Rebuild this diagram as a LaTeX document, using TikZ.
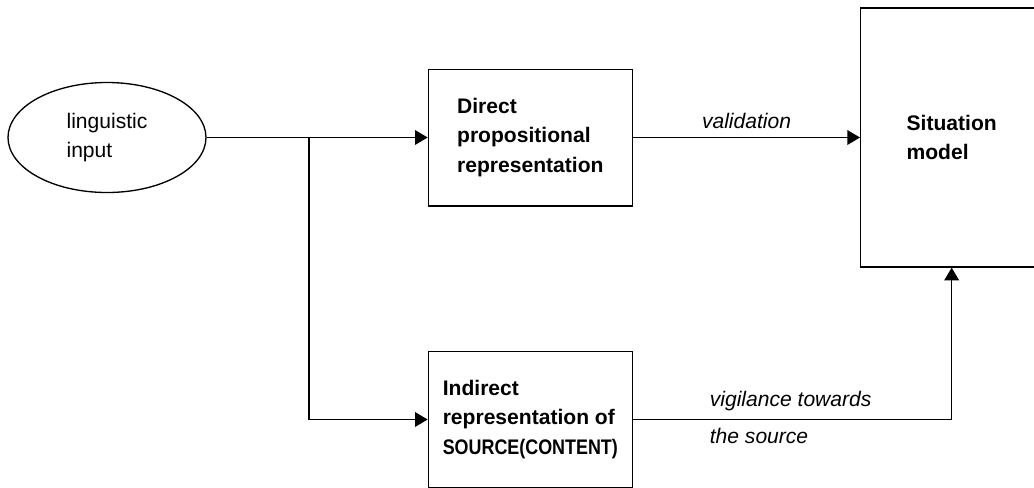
\documentclass[tikz,border=0pt]{standalone}
\usepackage{fontspec}
\setmainfont{Liberation Sans}
\newfontfamily\narrowfont[FakeStretch=0.85]{Liberation Sans}
\usetikzlibrary{shapes.geometric, positioning, arrows.meta}

\begin{document}
\begin{tikzpicture}[x=0.75pt, y=-0.75pt, >={Triangle[length=9.5pt,width=11pt]}, line width=1pt,
                    font=\fontsize{15.8pt}{22pt}\selectfont,
                    inputnode/.style={ellipse, draw, minimum width=148.5pt, minimum height=82.5pt, inner sep=0pt, align=left},
                    stagebox/.style={rectangle, draw, minimum width=153pt, minimum height=102.5pt, align=left,
                                     font=\fontsize{15.8pt}{22pt}\selectfont\bfseries},
                    edgetext/.style={font=\fontsize{15.8pt}{22pt}\selectfont\itshape, inner sep=6pt}]
    \useasboundingbox (0,0) rectangle (1034,487);
    \node[inputnode]                                   (input)     at (107,137.5)               {linguistic\\input};
    \node[stagebox]                                    (direct)    [right=165.75pt of input]    {Direct\\propositional\\representation};
    \node[stagebox]                                    (indirect)  [below=108pt of direct]      {Indirect\\representation of\\{\narrowfont SOURCE(CONTENT)}};
    \node[stagebox, minimum width=136.5pt, minimum height=194.25pt] (situation) [right=170.25pt of direct] {Situation\\model};
    \coordinate (split) at (309,137.5);
    \draw[->] (input)    --  (direct);
    \draw[->] (split)    |-  (indirect);
    \draw[->] (direct)   --  node[edgetext, above]                        {validation}        (situation);
    \draw[->] (indirect) -|  node[edgetext, pos=0.107, anchor=south west] {vigilance towards}
                             node[edgetext, pos=0.107, anchor=north west] {the source}        (situation);
\end{tikzpicture}
\end{document}
